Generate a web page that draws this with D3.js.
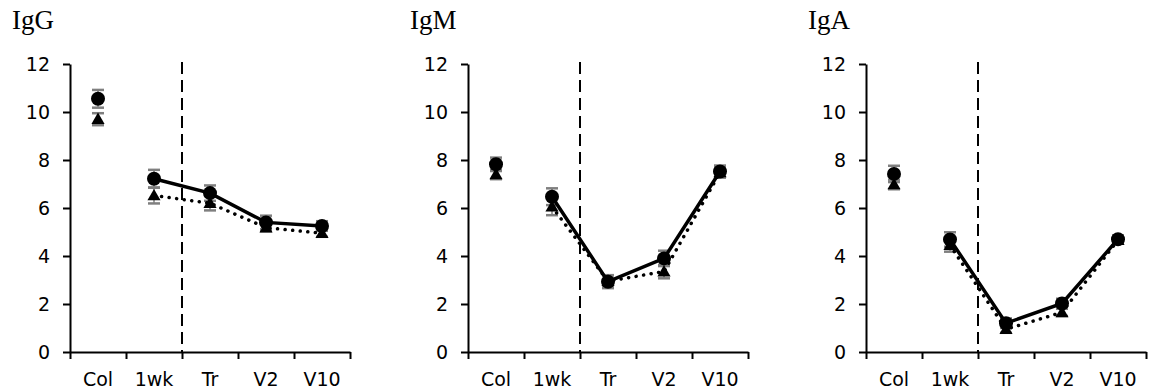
<!DOCTYPE html>
<html>
<head>
<meta charset="utf-8">
<script src="https://cdn.jsdelivr.net/npm/d3@7"></script>
<style>
  body { margin: 0; background: #fff; }
  svg { display: block; }
</style>
</head>
<body>
<svg id="viz"></svg>
<script>
// data
const panels = ["IgG", "IgM", "IgA"];
const categories = ["Col", "1wk", "Tr", "V2", "V10"];
const yTicks = [0, 2, 4, 6, 8, 10, 12];

// circle series (solid line)
const circleIgG = [10.55, 7.22, 6.62, 5.4, 5.25];
const circleIgM = [7.82, 6.47, 2.93, 3.9, 7.52];
const circleIgA = [7.42, 4.69, 1.2, 2.02, 4.7];
const circleErrIgG = [0.37, 0.37, 0.32, 0.28, 0.2];
const circleErrIgM = [0.28, 0.35, 0.27, 0.32, 0.25];
const circleErrIgA = [0.34, 0.3, 0.2, 0.2, 0.15];

// triangle series (dotted line)
const triIgG = [9.7, 6.52, 6.2, 5.18, 4.95];
const triIgM = [7.4, 6.05, 2.95, 3.35, 7.48];
const triIgA = [6.98, 4.45, 0.95, 1.65, 4.66];
const triErrIgG = [0.25, 0.33, 0.3, 0.15, 0.15];
const triErrIgM = [0.2, 0.35, 0.25, 0.28, 0.2];
const triErrIgA = [0.2, 0.27, 0.15, 0.15, 0.15];

const circles = [circleIgG, circleIgM, circleIgA];
const circleErrs = [circleErrIgG, circleErrIgM, circleErrIgA];
const tris = [triIgG, triIgM, triIgA];
const triErrs = [triErrIgG, triErrIgM, triErrIgA];

const width = 1155, height = 392;
const svg = d3.select("#viz").attr("width", width).attr("height", height);

const plotW = 280, plotTop = 64, plotBottom = 352;
const x = d3.scaleBand().domain(categories).range([0, plotW]);
const xEdge = d3.scaleLinear().domain([0, categories.length]).range([0, plotW]);
const y = d3.scaleLinear().domain([0, 12]).range([plotBottom, plotTop]);

const sans = "DejaVu Sans, Verdana, sans-serif";

panels.forEach(function(name, i) {
  const left = 70 + 398 * i;
  const g = svg.append("g").attr("transform", "translate(" + left + ",0)");

  // title
  svg.append("text")
     .attr("x", left - 58)
     .attr("y", 29)
     .attr("font-family", "Liberation Serif, Times New Roman, serif")
     .attr("font-size", 27)
     .attr("fill", "#000")
     .text(name);

  // y axis
  const ya = g.append("g").call(d3.axisLeft(y).tickValues(yTicks).tickSize(7).tickPadding(13).tickSizeOuter(0));
  ya.select(".domain").attr("stroke-width", 2);
  ya.selectAll(".tick line").attr("stroke-width", 2);
  ya.selectAll("text").attr("font-family", sans).attr("font-size", 19).attr("fill", "#000");

  // x axis: ticks at category edges, labels at centers
  const xa = g.append("g").attr("transform", "translate(0," + plotBottom + ")")
     .call(d3.axisBottom(xEdge).tickValues(d3.range(categories.length + 1)).tickSize(7).tickFormat("").tickSizeOuter(0));
  xa.select(".domain").attr("stroke-width", 2);
  xa.selectAll(".tick line").attr("stroke-width", 2);

  g.selectAll(".xlab")
   .data(categories)
   .enter()
   .append("text")
   .attr("class", "xlab")
   .attr("x", d => x(d) + x.bandwidth() / 2)
   .attr("y", 386)
   .attr("text-anchor", "middle")
   .attr("font-family", sans)
   .attr("font-size", 19)
   .attr("fill", "#000")
   .text(d => d);

  // dashed divider between 1wk and Tr
  g.append("line")
   .attr("x1", x("Tr")).attr("x2", x("Tr"))
   .attr("y1", y(12) - 2).attr("y2", plotBottom)
   .attr("stroke", "#000")
   .attr("stroke-width", 2)
   .attr("stroke-dasharray", "12,6");

  const cx = d => x(d.cat) + x.bandwidth() / 2;
  const circData = categories.map((c, k) => ({cat: c, v: circles[i][k], e: circleErrs[i][k]}));
  const triData = categories.map((c, k) => ({cat: c, v: tris[i][k], e: triErrs[i][k]}));
  const allData = circData.concat(triData);

  // error bars (under the markers)
  g.selectAll(".stem")
   .data(allData)
   .enter()
   .append("line")
   .attr("class", "stem")
   .attr("x1", cx).attr("x2", cx)
   .attr("y1", d => y(d.v + d.e)).attr("y2", d => y(d.v - d.e))
   .attr("stroke", "#7f7f7f")
   .attr("stroke-width", 1.5);

  const caps = [];
  allData.forEach(d => { caps.push({cat: d.cat, v: d.v + d.e}); caps.push({cat: d.cat, v: d.v - d.e}); });
  g.selectAll(".cap")
   .data(caps)
   .enter()
   .append("line")
   .attr("class", "cap")
   .attr("x1", d => cx(d) - 6).attr("x2", d => cx(d) + 6)
   .attr("y1", d => y(d.v)).attr("y2", d => y(d.v))
   .attr("stroke", "#7f7f7f")
   .attr("stroke-width", 2.5);

  // lines (no line to Col)
  const line = d3.line().x(cx).y(d => y(d.v));
  g.append("path")
   .attr("d", line(triData.slice(1)))
   .attr("fill", "none")
   .attr("stroke", "#000")
   .attr("stroke-width", 3.5)
   .attr("stroke-linecap", "round")
   .attr("stroke-dasharray", "0.1,7.5");
  g.append("path")
   .attr("d", line(circData.slice(1)))
   .attr("fill", "none")
   .attr("stroke", "#000")
   .attr("stroke-width", 3.5);

  // markers
  const tri = d3.symbol().type(d3.symbolTriangle).size(75);
  g.selectAll(".tri")
   .data(triData)
   .enter()
   .append("path")
   .attr("class", "tri")
   .attr("d", tri)
   .attr("transform", d => "translate(" + cx(d) + "," + (y(d.v) + 1) + ")")
   .attr("fill", "#000");

  g.selectAll(".dot")
   .data(circData)
   .enter()
   .append("circle")
   .attr("class", "dot")
   .attr("cx", cx)
   .attr("cy", d => y(d.v))
   .attr("r", 7)
   .attr("fill", "#000");
});
</script>
</body>
</html>
